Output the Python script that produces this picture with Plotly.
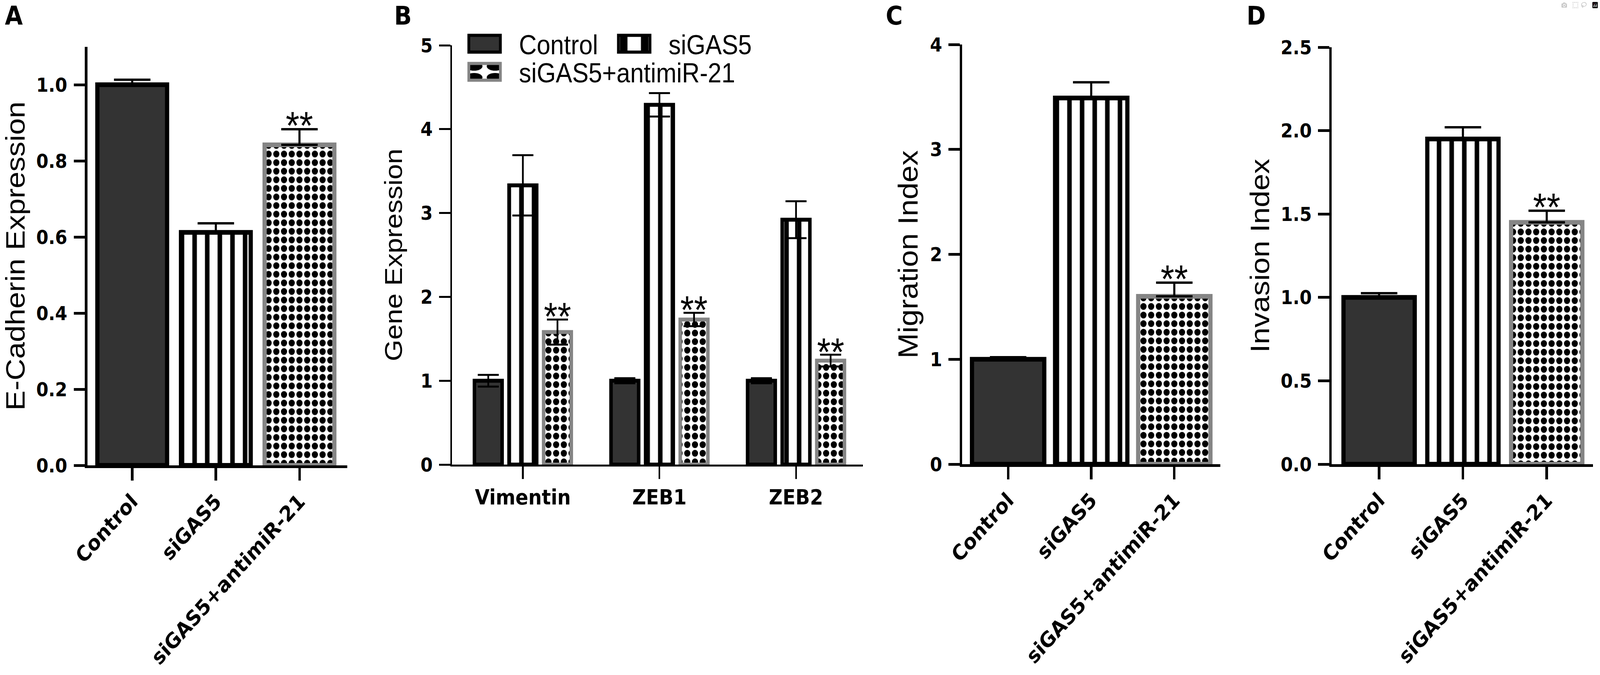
import plotly.graph_objects as go

W, H = 4563, 1729

groups = ["Control", "siGAS5", "siGAS5+antimiR-21"]

# panel A - E-cadherin
ecad_mean = [1.0, 0.612, 0.842]
ecad_err = [0.013, 0.024, 0.041]

# panel B - EMT genes
genes = ["Vimentin", "ZEB1", "ZEB2"]
gene_ctrl = [1.0, 1.0, 1.0]
gene_ctrl_err = [0.07, 0.03, 0.03]
gene_si = [3.33, 4.29, 2.92]
gene_si_err = [0.36, 0.14, 0.22]
gene_anti = [1.58, 1.73, 1.24]
gene_anti_err = [0.15, 0.08, 0.07]

# panel C - migration
mig_mean = [1.0, 3.49, 1.6]
mig_err = [0.02, 0.15, 0.13]

# panel D - invasion
inv_mean = [1.0, 1.95, 1.45]
inv_err = [0.025, 0.07, 0.07]

DARK = "#333333"
GREY = "#858585"
BARGAP = 0.24

ytick_font = dict(family="DejaVu Sans", size=50, color="black", weight="bold")
xtick_font = dict(family="DejaVu Sans", size=54, color="black", weight="bold")
star_font = dict(family="Liberation Sans", size=100, color="black")


def px_x(a, b):
    return [a / W, b / W]


def px_y(top, bottom):
    return [(H - bottom) / H, (H - top) / H]


def group_marker(k, lw):
    # 0: solid dark, 1: vertical stripes, 2: chequered (dotted) with grey frame
    if k == 0:
        return dict(color=DARK, line=dict(color="black", width=lw))
    if k == 1:
        return dict(color="white", line=dict(color="black", width=lw),
                    pattern=dict(shape="|", fgcolor="#000000", bgcolor="#ffffff", fgopacity=1,
                                 fillmode="replace", size=36, solidity=0.36))
    return dict(color="white", line=dict(color=GREY, width=lw),
                pattern=dict(shape=".", fgcolor="#000000", bgcolor="#ffffff", fgopacity=1,
                             fillmode="replace", size=22, solidity=0.5))


fig = go.Figure()

for xa, ya, mean, err, width in [("x", "y", ecad_mean, ecad_err, 0.834),
                                  ("x3", "y3", mig_mean, mig_err, 0.87),
                                  ("x4", "y4", inv_mean, inv_err, 0.85)]:
    for k, name in enumerate(groups):
        fig.add_trace(go.Bar(
            x=[name], y=[mean[k]], xaxis=xa, yaxis=ya, width=width, offsetgroup=xa,
            showlegend=False, marker=group_marker(k, 12),
            error_y=dict(type="data", symmetric=False, array=[err[k]], arrayminus=[0],
                         color="black", thickness=6, width=52),
        ))

err_b = dict(type="data", color="black", thickness=5, width=30)
fig.add_trace(go.Bar(
    name="Control", x=genes, y=gene_ctrl, xaxis="x2", yaxis="y2", legend="legend",
    marker=group_marker(0, 10), error_y=dict(array=gene_ctrl_err, **err_b),
))
fig.add_trace(go.Bar(
    name="siGAS5", x=genes, y=gene_si, xaxis="x2", yaxis="y2", legend="legend",
    marker=group_marker(1, 10), error_y=dict(array=gene_si_err, **err_b),
))
fig.add_trace(go.Bar(
    name="siGAS5+antimiR-21", x=genes, y=gene_anti, xaxis="x2", yaxis="y2", legend="legend2",
    marker=group_marker(2, 10), error_y=dict(array=gene_anti_err, **err_b),
))

annotations = []
# significance stars
for xa, ya, mean, err in [("x", "y", ecad_mean, ecad_err), ("x3", "y3", mig_mean, mig_err),
                          ("x4", "y4", inv_mean, inv_err)]:
    annotations.append(dict(x=2, y=mean[2] + err[2], xref=xa, yref=ya, text="**",
                            showarrow=False, yanchor="bottom", yshift=-48, font=star_font))
offset = (1 - BARGAP) / 3
for i in range(len(genes)):
    annotations.append(dict(x=i + offset, y=gene_anti[i] + gene_anti_err[i], xref="x2", yref="y2",
                            text="**", showarrow=False, yanchor="bottom", yshift=-50, font=star_font))

# panel letters
for letter, xp in [("A", 12), ("B", 1122), ("C", 2524), ("D", 3553)]:
    annotations.append(dict(x=xp / W, y=1.0, xref="paper", yref="paper", text=letter,
                            showarrow=False, xanchor="left", yanchor="top",
                            font=dict(family="DejaVu Sans", size=66, color="black", weight="bold")))


def yaxis(domain, anchor, rng, dtick, fmt, title, tsize, standoff, lw=7):
    return dict(domain=domain, anchor=anchor, range=rng, dtick=dtick, tickformat=fmt,
                showgrid=False, zeroline=False,
                showline=True, linecolor="black", linewidth=lw, ticks="outside", ticklen=32,
                tickwidth=lw, tickcolor="black", tickfont=ytick_font, ticklabelstandoff=8,
                title=dict(text=title, font=dict(family="Liberation Sans", size=tsize, color="black"),
                           standoff=standoff),
                automargin=False, fixedrange=True)


def xaxis(domain, anchor, rng, angle, lw=7):
    return dict(domain=domain, range=rng, anchor=anchor, type="category", showgrid=False,
                zeroline=False, showline=True, linecolor="black", linewidth=lw, ticks="outside",
                ticklen=32, tickwidth=lw, tickcolor="black", tickfont=xtick_font, tickangle=angle,
                categoryorder="array", categoryarray=groups if anchor != "y2" else genes,
                automargin=False, fixedrange=True)


legend_font = dict(family="Liberation Sans", size=70, color="black")
legend_x = 1284 / W

fig.update_layout(
    width=W, height=H,
    margin=dict(l=0, r=0, t=0, b=0),
    paper_bgcolor="white", plot_bgcolor="white",
    barmode="group", bargap=BARGAP, bargroupgap=0.2,
    xaxis=xaxis(px_x(249, 990), "y", [-0.537, 2.57], -45),
    yaxis=yaxis(px_y(119.5, 1192), "x", [0, 1.1], 0.2, ".1f", "E-Cadherin Expression", 77, 79),
    xaxis2=xaxis(px_x(1289, 2461), "y2", [-0.519, 2.49], 0, lw=5),
    yaxis2=yaxis(px_y(116, 1190), "x2", [0, 5], 1, "d", "Gene Expression", 71, 30, lw=5),
    xaxis3=xaxis(px_x(2744, 3480), "y3", [-0.553, 2.553], -45),
    yaxis3=yaxis(px_y(114, 1189), "x3", [0, 4], 1, "d", "Migration Index", 78, 12),
    xaxis4=xaxis(px_x(3798, 4543), "y4", [-0.565, 2.552], -45),
    yaxis4=yaxis(px_y(121, 1189), "x4", [0, 2.5], 0.5, ".1f", "Invasion Index", 77, 9),
    legend=dict(x=legend_x, y=(H - 112) / H, xanchor="left", yanchor="middle", orientation="h",
                font=legend_font, itemwidth=186, bgcolor="rgba(0,0,0,0)"),
    legend2=dict(x=legend_x, y=(H - 184) / H, xanchor="left", yanchor="middle", orientation="h",
                 font=legend_font, itemwidth=186, bgcolor="rgba(0,0,0,0)"),
    annotations=annotations,
)

# the browser window may be narrower than the figure: scale the page to fit it,
# and enlarge the legend keys to the size of the original boxes
fit_js = """
var gd = document.getElementById('{plot_id}');
document.documentElement.style.overflow = 'hidden';
document.body.style.margin = '0px';
document.body.style.overflow = 'hidden';
var sx = Math.min(1, window.innerWidth / 4563);
var sy = Math.min(1, window.innerHeight / 1729);
gd.style.transformOrigin = '0 0';
gd.style.transform = 'scale(' + sx + ',' + sy + ')';
gd.querySelectorAll('.legendpoints path').forEach(function(p) {
    var t = p.getAttribute('transform') || '';
    p.setAttribute('transform', t + ' scale(7.5,3.6)');
    p.style.vectorEffect = 'non-scaling-stroke';
    p.style.strokeWidth = '8px';
});
"""

fig.write_html("out.html", post_script=fit_js)
